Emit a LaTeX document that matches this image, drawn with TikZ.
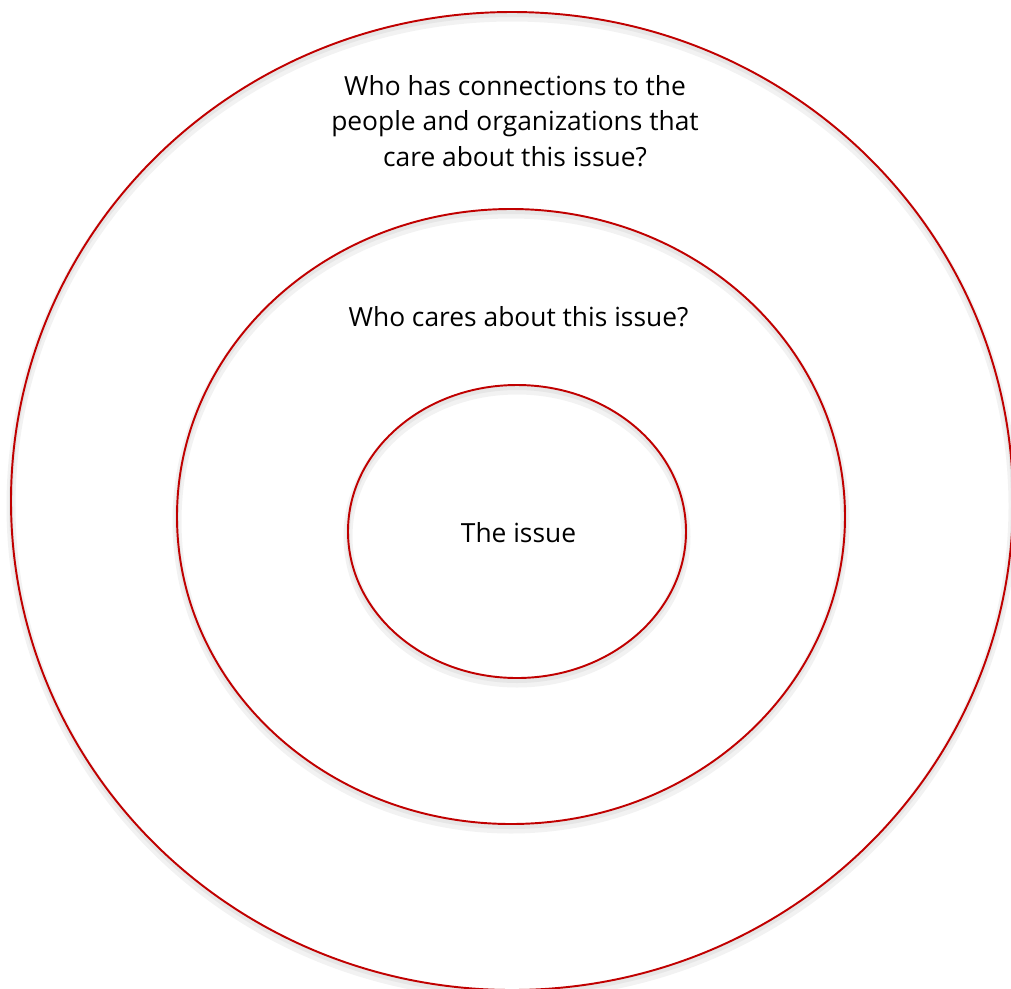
\documentclass[tikz,border=0pt]{standalone}
\usepackage{fontspec}
\setmainfont{Open Sans}
\usepackage{xcolor}
\usetikzlibrary{positioning}

\definecolor{ringred}{RGB}{192,0,0}
\tikzset{
  ring/.style={draw=ringred, line width=1.1pt},
  ringshadow/.style={draw=black, opacity=0.05, line width=0.18cm},
  question/.style={align=center, anchor=base, font=\fontsize{15}{20.2}\selectfont}
}

\begin{document}
\begin{tikzpicture}[x=0.02cm, y=-0.02cm]
    \useasboundingbox (0,0) rectangle (1011,988);
    \clip (0,0) rectangle (1011,988);
    % soft shadows under the rings
    \foreach \cx/\cy/\rx/\ry in {512/501/501/489, 511/516.5/334/307.5, 517/531.5/169/146.5} {
        \draw[ringshadow] (\cx,\cy+5) ellipse [x radius=\rx, y radius=\ry];
        \draw[ringshadow, line width=0.08cm] (\cx,\cy+3) ellipse [x radius=\rx, y radius=\ry];
    }
    % the three rings
    \draw[ring] (512,501) ellipse [x radius=501, y radius=489];
    \draw[ring] (511,516.5) ellipse [x radius=334, y radius=307.5];
    \draw[ring] (517,531.5) ellipse [x radius=169, y radius=146.5];
    % texts
    \node[question] (connections) at (515,166) {Who has connections to the\\people and organizations that\\care about this issue?};
    \node[question] (carers) at (518.5,326) {Who cares about this issue?};
    \node[question] (issue) at (518.5,542) {The issue};
\end{tikzpicture}
\end{document}
